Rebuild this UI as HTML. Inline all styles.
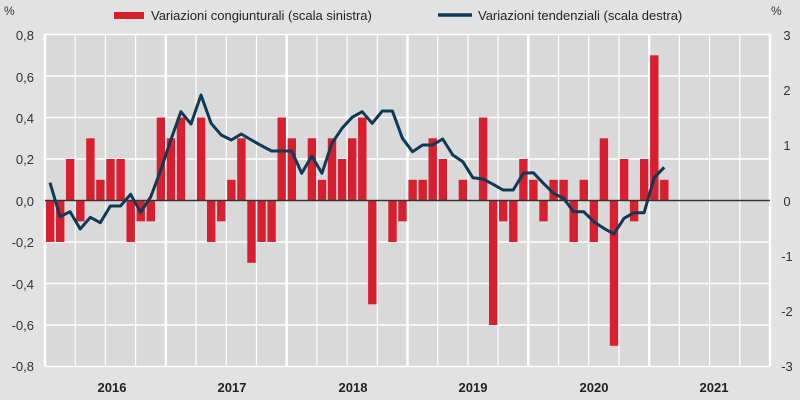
<!DOCTYPE html>
<html><head><meta charset="utf-8"><style>
html,body{margin:0;padding:0;background:#e2e2e2;}
svg{display:block;font-family:"Liberation Sans",Arial,sans-serif;}
</style></head><body>
<svg id="c" width="800" height="400" viewBox="0 0 800 400" xmlns="http://www.w3.org/2000/svg">
<rect x="0" y="0" width="800" height="400" fill="#e2e2e2"/>
<rect x="45" y="34" width="725" height="332" fill="#d9d9d9"/>
<g id="grid" stroke="#ffffff"></g>
<g id="bars" fill="#d71f2f"></g>
<line x1="45" y1="200.5" x2="770" y2="200.5" stroke="#333" stroke-width="1.5"/>
<polyline id="ln" fill="none" stroke="#0e3a55" stroke-width="3" stroke-linejoin="round"/>
<g font-size="13" fill="#333" text-anchor="end">
<text x="34" y="40">0,8</text><text x="34" y="82">0,6</text><text x="34" y="123">0,4</text>
<text x="34" y="164">0,2</text><text x="34" y="206">0,0</text><text x="34" y="247">-0,2</text>
<text x="34" y="289">-0,4</text><text x="34" y="330">-0,6</text><text x="34" y="371">-0,8</text>
</g>
<g font-size="13" fill="#333" text-anchor="middle">
<text x="787" y="40">3</text><text x="787" y="95">2</text><text x="787" y="150">1</text>
<text x="787" y="206">0</text><text x="787" y="261">-1</text><text x="787" y="316">-2</text>
<text x="787" y="371">-3</text>
</g>
<text x="4" y="15" font-size="12" fill="#333">%</text>
<text x="771" y="15" font-size="12" fill="#333">%</text>
<g font-size="13" font-weight="bold" fill="#222" text-anchor="middle">
<text x="112" y="392">2016</text><text x="232" y="392">2017</text><text x="353" y="392">2018</text>
<text x="473" y="392">2019</text><text x="594" y="392">2020</text><text x="714" y="392">2021</text>
</g>
<rect x="114" y="12" width="30" height="7" fill="#d71f2f"/>
<text x="151" y="20" font-size="13" fill="#222">Variazioni congiunturali (scala sinistra)</text>
<line x1="438" y1="15" x2="472" y2="15" stroke="#0e3a55" stroke-width="3.5"/>
<text x="478" y="20" font-size="13" fill="#222">Variazioni tendenziali (scala destra)</text>
</svg>
<script>
var ns="http://www.w3.org/2000/svg";
var g=document.getElementById('grid');
function ln(x1,y1,x2,y2,w){var l=document.createElementNS(ns,'line');l.setAttribute('x1',x1);l.setAttribute('y1',y1);l.setAttribute('x2',x2);l.setAttribute('y2',y2);l.setAttribute('stroke-width',w);g.appendChild(l);}
for(var i=0;i<9;i++){var y=34.5+i*41.5;ln(45,y,770,y,1.5);}
var mw=725/72;
for(var q=0;q<=24;q++){var x=45+q*3*mw;ln(x,34,x,366,q%4==0?2.5:1.2);}
var v=[-2,-2,2,-1,3,1,2,2,-2,-1,-1,4,3,4,0,4,-2,-1,1,3,-3,-2,-2,4,
3,0,3,1,3,2,3,4,-5,0,-2,-1,1,1,3,2,0,1,0,4,-6,-1,-2,2,
1,-1,1,1,-2,1,-2,3,-7,2,-1,2,7,1];
var b=document.getElementById('bars');
v.forEach(function(val,m){if(!val)return;var r=document.createElementNS(ns,'rect');var h=Math.abs(val)*20.75;var x=45+m*mw+0.9;r.setAttribute('x',x.toFixed(1));r.setAttribute('width','8.4');r.setAttribute('y',(val>0?200.5-h:200.5).toFixed(1));r.setAttribute('height',h.toFixed(1));b.appendChild(r);});
var ly=[182.7,216.7,211.7,229,217.3,222.7,206,206,194.3,212.3,197,170,140,111.7,124,95,123.3,135,140,134,140,145.7,151,151,
151,173.3,156,173.3,143.3,128.3,117.3,111.7,123.3,111,111,138.3,151.7,145,145,139,155,161.7,177.7,179,184.3,190,190,173.3,
172.7,183.3,193.3,198.3,211.7,211.7,221.7,228.3,234,218.3,212.7,212.7,177.7,167.3];
var pts=ly.map(function(y,m){return (50+m*mw).toFixed(1)+','+y;}).join(' ');
document.getElementById('ln').setAttribute('points',pts);
</script>
</body></html>
